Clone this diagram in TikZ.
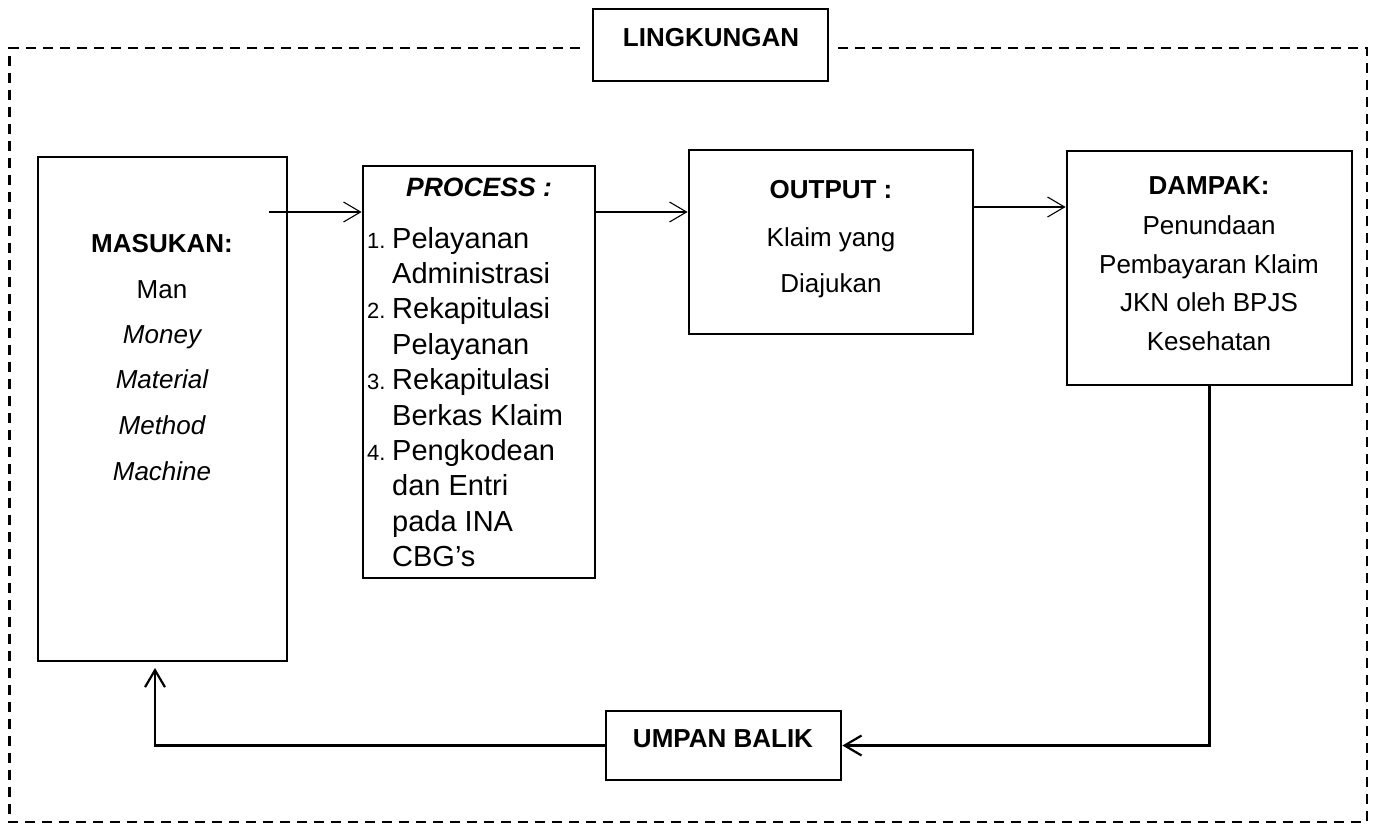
\documentclass[tikz,border=0pt]{standalone}
\usepackage{fontspec}
\setmainfont{Liberation Sans}
\usetikzlibrary{arrows.meta}
\begin{document}
\begin{tikzpicture}[x=1pt,y=-1pt,
  box/.style={draw, line width=2.8pt, rectangle, inner sep=0pt},
  arr/.style={line width=1.1pt, -{Straight Barb[length=17pt,width=20pt]}},
  fb/.style={line width=2.2pt, -{Straight Barb[length=17pt,width=20pt]}},
  txt/.style={anchor=base, inner sep=0pt, font=\fontsize{26}{30}\selectfont},
  ptxt/.style={anchor=base west, inner sep=0pt, font=\fontsize{29}{34}\selectfont},
  pnum/.style={anchor=base west, inner sep=0pt, font=\fontsize{22}{25}\selectfont},
  env/.style={line width=2.6pt, dash pattern=on 10pt off 7pt}
]
\fill[white] (0,0) rectangle (1376,825);
\useasboundingbox (0,0) rectangle (1376,825);

% environment dashed frame
\draw[env] (838,48) -- (1367,48) -- (1367,822) -- (9.5,822) -- (9.5,48) -- (584,48);

% boxes
\node[box, minimum width=235pt, minimum height=72pt] (lingk) at (710.5,45) {};
\node[box, minimum width=249pt, minimum height=504pt] (masukan) at (162.5,409) {};
\node[box, minimum width=232pt, minimum height=412pt] (process) at (479,372) {};
\node[box, minimum width=284pt, minimum height=184pt] (output) at (831,242) {};
\node[box, minimum width=285pt, minimum height=234pt] (dampak) at (1209.5,268) {};
\node[box, minimum width=235pt, minimum height=69pt] (umpan) at (723.5,745.5) {};

% texts
\node[txt, font=\fontsize{26}{30}\selectfont\bfseries] (tl) at (711,46) {LINGKUNGAN};
\node[txt, font=\fontsize{26}{30}\selectfont\bfseries] (tu) at (723,747) {UMPAN BALIK};

\node[txt, font=\fontsize{26}{30}\selectfont\bfseries] (m0) at (162,252) {MASUKAN:};
\node[txt] (m1) at (162,298) {Man};
\node[txt, font=\fontsize{26}{30}\selectfont\itshape] (m2) at (162,343) {Money};
\node[txt, font=\fontsize{26}{30}\selectfont\itshape] (m3) at (162,388) {Material};
\node[txt, font=\fontsize{26}{30}\selectfont\itshape] (m4) at (162,434) {Method};
\node[txt, font=\fontsize{26}{30}\selectfont\itshape] (m5) at (162,480) {Machine};

\node[txt, font=\fontsize{26.5}{30}\selectfont\bfseries\itshape] (p0) at (479,196) {PROCESS :};
\foreach \i/\t in {1/Pelayanan, 2/Administrasi, 3/Rekapitulasi, 4/Pelayanan, 5/Rekapitulasi, 6/Berkas Klaim, 7/Pengkodean, 8/dan Entri, 9/pada INA, 10/CBG’s}
  \node[ptxt] (p\i) at ({392},{248+35.4*(\i-1)}) {\t};
\node[pnum] (n1) at (367,248) {1.};
\node[pnum] (n2) at (367,318.8) {2.};
\node[pnum] (n3) at (367,389.6) {3.};
\node[pnum] (n4) at (367,460.4) {4.};

\node[txt, font=\fontsize{26}{30}\selectfont\bfseries] (o0) at (831,198) {OUTPUT :};
\node[txt] (o1) at (831,246) {Klaim yang};
\node[txt] (o2) at (831,292) {Diajukan};

\node[txt, font=\fontsize{26}{30}\selectfont\bfseries] (d0) at (1209,194) {DAMPAK:};
\node[txt] (d1) at (1209,234) {Penundaan};
\node[txt] (d2) at (1209,273) {Pembayaran Klaim};
\node[txt] (d3) at (1209,311) {JKN oleh BPJS};
\node[txt] (d4) at (1209,350) {Kesehatan};

% connectors
\coordinate (a1) at (269,212);
\draw[arr] (a1) -- (a1 -| process.west);
\coordinate (a2) at (process.east |- 0,212);
\draw[arr] (a2) -- (a2 -| output.west);
\coordinate (a3) at (output.east |- 0,207);
\draw[arr] (a3) -- (a3 -| dampak.west);
\draw[fb] (dampak.south) |- (umpan.east);
\coordinate (fbend) at (155,668);
\draw[fb] (umpan.west) -| (fbend);
\end{tikzpicture}
\end{document}
